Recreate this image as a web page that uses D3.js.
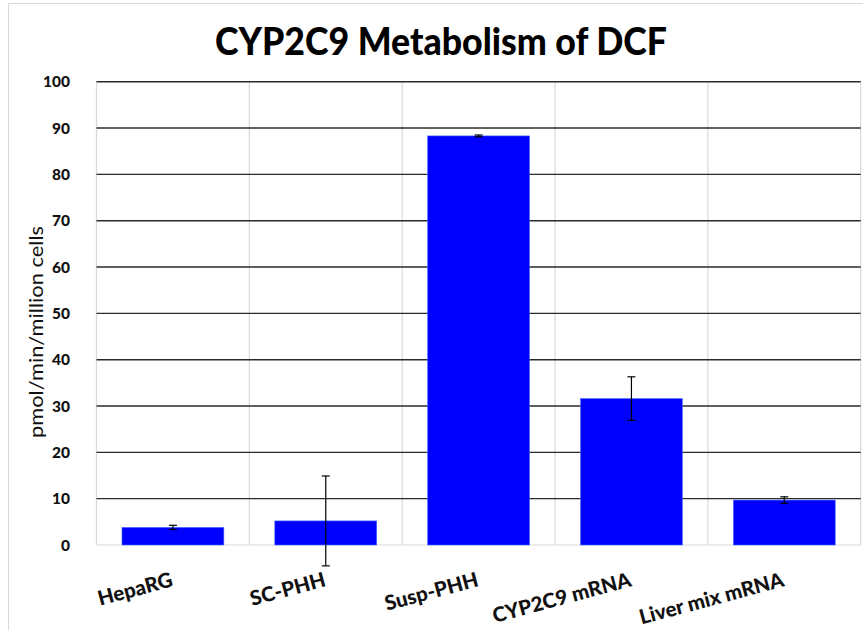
<!DOCTYPE html>
<html><head><meta charset="utf-8">
<script src="https://cdn.jsdelivr.net/npm/d3@7"></script>
<style>html,body{margin:0;padding:0;background:#fff;overflow:hidden}</style>
</head><body>
<script>
const categories = ["HepaRG", "SC-PHH", "Susp-PHH", "CYP2C9 mRNA", "Liver mix mRNA"];
const values = [3.8, 5.2, 88.3, 31.6, 9.7];
const errors = [0.45, 9.7, 0.2, 4.7, 0.7];
const yTicks = [0, 10, 20, 30, 40, 50, 60, 70, 80, 90, 100];
const title = "CYP2C9 Metabolism of DCF";
const yTitle = "pmol/min/million cells";

const W = 863, H = 630;
const m = {left: 96.5, right: 860.7, top: 81.7, bottom: 545};
const svg = d3.select("body").append("svg").attr("width", W).attr("height", H);
const font = "Lato, 'Open Sans', sans-serif";

// chart border
svg.append("rect").attr("x", 8.5).attr("y", 3.5).attr("width", 900).attr("height", 700)
  .attr("fill", "none").attr("stroke", "#d9d9d9").attr("stroke-width", 1);

const x = d3.scaleBand().domain(categories).range([m.left, m.right]).paddingInner(1/3).paddingOuter(1/6);
const y = d3.scaleLinear().domain([0, 100]).range([m.bottom, m.top]);
const step = x.step();

// vertical category separators
const seps = d3.range(categories.length + 1).map(i => m.left + i * step);
svg.append("g").selectAll("line").data(seps).join("line")
  .attr("x1", d => d).attr("x2", d => d).attr("y1", m.top).attr("y2", m.bottom)
  .attr("stroke", "#d9d9d9").attr("stroke-width", 1.2);

// horizontal gridlines
svg.append("g").selectAll("line").data(yTicks.filter(t => t > 0)).join("line")
  .attr("x1", m.left).attr("x2", m.right).attr("y1", d => y(d)).attr("y2", d => y(d))
  .attr("stroke", "#2a2a2a").attr("stroke-width", 1.4);

// baseline
svg.append("line").attr("x1", m.left).attr("x2", m.right).attr("y1", y(0)).attr("y2", y(0))
  .attr("stroke", "#d9d9d9").attr("stroke-width", 1.2);

// bars
svg.append("g").selectAll("rect").data(categories).join("rect")
  .attr("x", d => x(d)).attr("width", x.bandwidth())
  .attr("y", (d, i) => y(values[i])).attr("height", (d, i) => y(0) - y(values[i]))
  .attr("fill", "#0000ff").attr("stroke", "#4a6cff").attr("stroke-width", 0.6);

// error bars
const eg = svg.append("g").attr("stroke", "#000").attr("stroke-width", 1.2);
categories.forEach((c, i) => {
  const cx = x(c) + x.bandwidth() / 2;
  const hi = y(values[i] + errors[i]), lo = y(values[i] - errors[i]);
  eg.append("line").attr("x1", cx).attr("x2", cx).attr("y1", hi).attr("y2", lo);
  eg.append("line").attr("x1", cx - 4).attr("x2", cx + 4).attr("y1", hi).attr("y2", hi);
  eg.append("line").attr("x1", cx - 4).attr("x2", cx + 4).attr("y1", lo).attr("y2", lo);
});

// y tick labels
svg.append("g").selectAll("text").data(yTicks).join("text")
  .attr("x", 70).attr("y", d => y(d)).attr("dy", "0.36em")
  .attr("text-anchor", "end").attr("font-family", font).attr("font-weight", "900")
  .attr("font-size", 15.5).attr("fill", "#111").text(d => d);

// y title
svg.append("text").attr("transform", `translate(43,${332}) rotate(-90)`)
  .attr("text-anchor", "middle").attr("font-family", font).attr("font-size", 18.5)
  .attr("textLength", 212).attr("lengthAdjust", "spacingAndGlyphs")
  .attr("fill", "#111").text(yTitle);

// x labels
svg.append("g").selectAll("text").data(categories).join("text")
  .attr("transform", d => `translate(${x(d) + x.bandwidth() / 2 + 1},${586}) rotate(-15)`)
  .attr("text-anchor", "end").attr("font-family", font).attr("font-weight", "900")
  .attr("font-size", 20.5).attr("fill", "#111").text(d => d);

// title
svg.append("text").attr("x", 441).attr("y", 55).attr("text-anchor", "middle")
  .attr("font-family", font).attr("font-weight", "900").attr("font-size", 38)
  .attr("textLength", 452).attr("lengthAdjust", "spacingAndGlyphs")
  .attr("fill", "#000").text(title);
</script>
</body></html>
